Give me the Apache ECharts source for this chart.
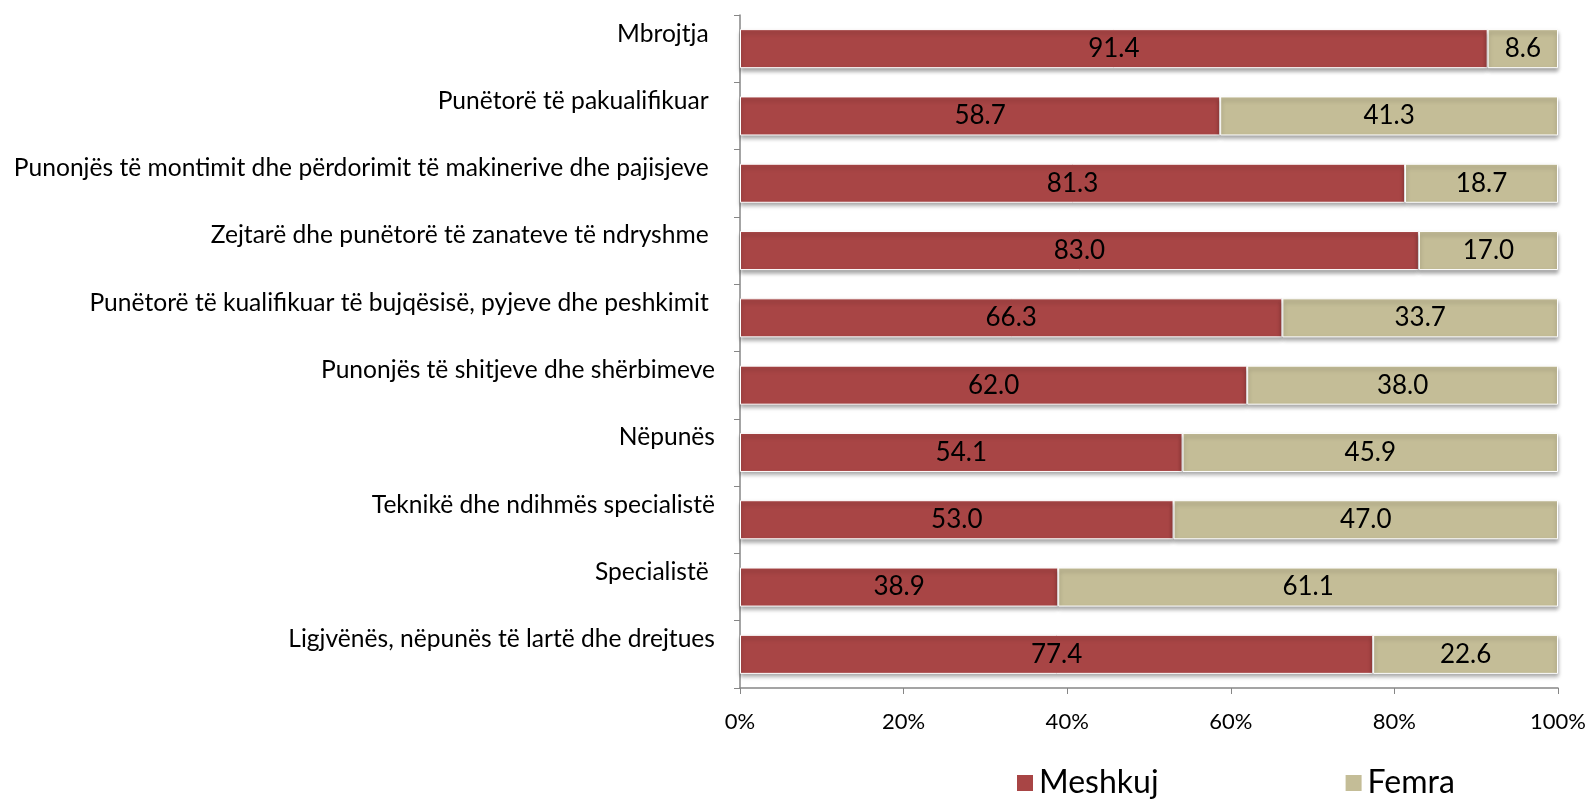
<!DOCTYPE html>
<html>
<head>
<meta charset="utf-8">
<script src="https://cdn.jsdelivr.net/npm/echarts@6/dist/echarts.min.js"></script>
<style>
  html, body { margin: 0; padding: 0; background: #fff; }
  #chart { width: 1590px; height: 799px; }
</style>
</head>
<body>
<div id="chart"></div>
<script>
// categories listed bottom-to-top (ECharts category y axis starts at the bottom)
const categories = [
  'Ligjvënës, nëpunës të lartë dhe drejtues',
  'Specialistë ',
  'Teknikë dhe ndihmës specialistë',
  'Nëpunës',
  'Punonjës të shitjeve dhe shërbimeve',
  'Punëtorë të kualifikuar të bujqësisë, pyjeve dhe peshkimit ',
  'Zejtarë dhe punëtorë të zanateve të ndryshme ',
  'Punonjës të montimit dhe përdorimit të makinerive dhe pajisjeve ',
  'Punëtorë të pakualifikuar ',
  'Mbrojtja '
]
const meshkuj = [77.4, 38.9, 53.0, 54.1, 62.0, 66.3, 83.0, 81.3, 58.7, 91.4]
const femra = [22.6, 61.1, 47.0, 45.9, 38.0, 33.7, 17.0, 18.7, 41.3, 8.6]

const FONT = 'Lato, "Open Sans", sans-serif'
const chart = echarts.init(document.getElementById('chart'))

const barStyle = (color) => ({
  color: color,
  borderColor: '#fff',
  borderWidth: 1,
  shadowColor: 'rgba(0,0,0,0.35)',
  shadowBlur: 4,
  shadowOffsetY: 3
})

const label = {
  show: true,
  position: 'inside',
  color: '#000',
  fontFamily: FONT,
  fontSize: 26,
  formatter: p => p.value.toFixed(1)
}

chart.setOption({
  animation: false,
  grid: { left: 740, right: 32, top: 15, bottom: 111 },
  legend: {
    bottom: -5,
    left: 1010,
    itemGap: 185,
    itemWidth: 18,
    itemHeight: 18,
    icon: 'rect',
    textStyle: { fontFamily: FONT, fontSize: 32, color: '#000' },
    data: ['Meshkuj', 'Femra']
  },
  xAxis: {
    type: 'value',
    min: 0,
    max: 100,
    interval: 20,
    axisLine: { show: true, lineStyle: { color: '#868686', width: 1.5 } },
    axisTick: { show: true, length: 6, lineStyle: { color: '#868686' } },
    splitLine: { show: false },
    axisLabel: {
      formatter: '{value}%',
      margin: 23,
      fontFamily: FONT,
      fontSize: 22,
      color: '#000'
    }
  },
  yAxis: {
    type: 'category',
    data: categories,
    axisLine: { show: true, lineStyle: { color: '#868686', width: 1.5 } },
    axisTick: { show: true, length: 6, lineStyle: { color: '#868686' } },
    axisLabel: {
      margin: 25,
      fontFamily: FONT,
      fontSize: 24.6,
      color: '#000',
      verticalAlign: 'bottom',
      lineHeight: 30
    }
  },
  series: [
    {
      name: 'Meshkuj',
      type: 'bar',
      stack: 'total',
      barWidth: '58%',
      data: meshkuj,
      itemStyle: barStyle('#A84545'),
      label: label
    },
    {
      name: 'Femra',
      type: 'bar',
      stack: 'total',
      barWidth: '58%',
      data: femra,
      itemStyle: barStyle('#C4BD97'),
      label: label
    }
  ]
})
</script>
</body>
</html>
